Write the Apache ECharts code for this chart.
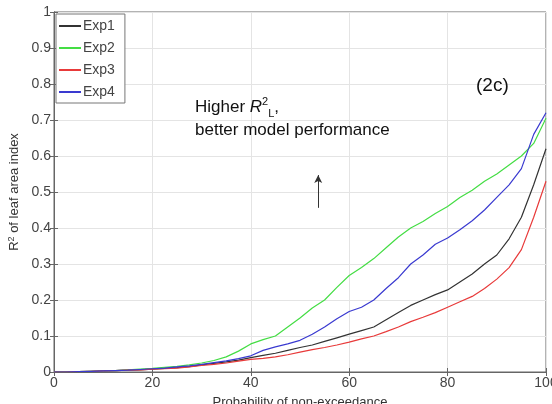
<!DOCTYPE html>
<html><head><meta charset="utf-8">
<script src="https://cdn.jsdelivr.net/npm/echarts@6/dist/echarts.min.js"></script>
<style>html,body{margin:0;padding:0;background:#fff}#c{width:552px;height:404px}</style>
</head><body><div id="c"></div>
<script>
const xVals = [0,2.5,5,7.5,10,12.5,15,17.5,20,22.5,25,27.5,30,32.5,35,37.5,40,42.5,45,47.5,50,52.5,55,57.5,60,62.5,65,67.5,70,72.5,75,77.5,80,82.5,85,87.5,90,92.5,95,97.5,100];
const exp1 = [0,0,0.001,0.002,0.003,0.004,0.005,0.006,0.008,0.010,0.012,0.015,0.020,0.024,0.028,0.033,0.040,0.046,0.052,0.060,0.068,0.075,0.085,0.095,0.105,0.115,0.125,0.145,0.165,0.185,0.200,0.215,0.228,0.250,0.272,0.300,0.325,0.370,0.430,0.520,0.620];
const exp2 = [0,0,0.001,0.002,0.003,0.004,0.006,0.008,0.010,0.013,0.016,0.020,0.025,0.032,0.042,0.058,0.078,0.090,0.100,0.125,0.150,0.178,0.200,0.235,0.268,0.290,0.315,0.345,0.375,0.400,0.418,0.440,0.460,0.485,0.505,0.530,0.550,0.575,0.600,0.635,0.705];
const exp3 = [0,0,0.001,0.002,0.003,0.004,0.005,0.006,0.008,0.009,0.011,0.014,0.018,0.021,0.025,0.030,0.035,0.038,0.042,0.048,0.055,0.062,0.068,0.075,0.083,0.092,0.100,0.112,0.125,0.140,0.152,0.165,0.180,0.195,0.210,0.232,0.258,0.290,0.340,0.430,0.530];
const exp4 = [0,0,0.001,0.002,0.003,0.004,0.005,0.007,0.009,0.011,0.014,0.017,0.021,0.026,0.031,0.037,0.045,0.060,0.070,0.078,0.088,0.105,0.125,0.148,0.168,0.180,0.200,0.232,0.262,0.300,0.325,0.355,0.372,0.395,0.420,0.450,0.485,0.520,0.565,0.660,0.720];
const seriesNames = ['Exp1','Exp2','Exp3','Exp4'];
const seriesColors = ['#333333','#44dd44','#e83a3a','#3a3ad0'];
const arrowX = 53.7, arrowY0 = 0.456, arrowY1 = 0.547;

const pair = a => xVals.map((x,i)=>[x,a[i]]);
const allData = [exp1,exp2,exp3,exp4];
const chart = echarts.init(document.getElementById('c'), null, {renderer:'canvas'});
const font = 'Liberation Sans, Arial, sans-serif';
const series = allData.map((d,i)=>({
  name: seriesNames[i], type:'line', data: pair(d), showSymbol:false, symbol:'none',
  lineStyle:{color:seriesColors[i], width:1.2}, itemStyle:{color:seriesColors[i]}, animation:false
}));
series[0].markLine = {
  silent:true, symbol:['none','arrow'], symbolSize:[6,8], animation:false,
  label:{show:false}, lineStyle:{color:'#333', width:1, type:'solid'},
  data:[[{coord:[arrowX,arrowY0]},{coord:[arrowX,arrowY1]}]]
};
chart.setOption({
  animation:false,
  grid:{left:54, right:6, top:12, bottom:32, show:true, borderColor:'#666', borderWidth:1, containLabel:false, outerBoundsMode:'none'},
  legend:{
    data:seriesNames, orient:'vertical', left:56, top:14,
    backgroundColor:'#fff', borderColor:'#777', borderWidth:1, padding:[5,10,4,3],
    itemGap:8, itemWidth:22, itemHeight:2, icon:'rect',
    textStyle:{fontFamily:font, fontSize:14, color:'#444', padding:[0,0,0,-3]}
  },
  xAxis:[{
    type:'value', min:0, max:100, interval:20, position:'bottom',
    name:'Probability of non-exceedance', nameLocation:'middle', nameGap:24,
    nameTextStyle:{fontFamily:font, fontSize:13, color:'#333'},
    axisLine:{lineStyle:{color:'#666'}},
    axisTick:{inside:true, length:4, lineStyle:{color:'#666'}},
    axisLabel:{fontFamily:font, fontSize:14, color:'#444', margin:4},
    splitLine:{show:true, lineStyle:{color:'#e4e4e4', width:1}}
  },{
    type:'value', min:0, max:100, interval:20, position:'top',
    axisLine:{show:true, lineStyle:{color:'#666'}},
    axisTick:{inside:true, length:4, lineStyle:{color:'#666'}},
    axisLabel:{show:false}, splitLine:{show:false}
  }],
  yAxis:[{
    type:'value', min:0, max:1, interval:0.1,
    name:'{r|R}{s|2} of leaf area index', nameLocation:'middle', nameGap:28,
    nameTextStyle:{fontFamily:font, fontSize:13, color:'#333',
      rich:{r:{fontFamily:font, fontSize:13, color:'#333'}, s:{fontFamily:font, fontSize:9, color:'#333', verticalAlign:'top', padding:[0,0,6,0]}}},
    axisLine:{lineStyle:{color:'#666'}},
    axisTick:{inside:true, length:4, lineStyle:{color:'#666'}},
    axisLabel:{fontFamily:font, fontSize:14, color:'#444', margin:3,
      formatter:v=>String(Math.round(v*10)/10)},
    splitLine:{show:true, lineStyle:{color:'#e4e4e4', width:1}}
  },{
    type:'value', min:0, max:1, interval:0.1, position:'right',
    axisLine:{show:true, lineStyle:{color:'#666'}},
    axisTick:{inside:true, length:4, lineStyle:{color:'#666'}},
    axisLabel:{show:false}, splitLine:{show:false}
  }],
  graphic:[
    {type:'text', left:195, top:96, z:100, style:{
      text:'{n|Higher }{i|R}{sup|2}{sub|L}{n|,}\n{n|better model performance}',
      rich:{
        n:{fontFamily:font, fontSize:17, fill:'#111', lineHeight:23},
        i:{fontFamily:font, fontSize:17, fontStyle:'italic', fill:'#111', lineHeight:23},
        sup:{fontFamily:font, fontSize:11, fill:'#111', verticalAlign:'top', padding:[0,0,8,0]},
        sub:{fontFamily:font, fontSize:11, fill:'#111', verticalAlign:'bottom', padding:[6,0,0,0]}
      }
    }},
    {type:'text', left:476, top:76, z:100, style:{text:'(2c)', fontFamily:font, fontSize:19, fill:'#111'}}
  ],
  series: series
});
</script></body></html>
